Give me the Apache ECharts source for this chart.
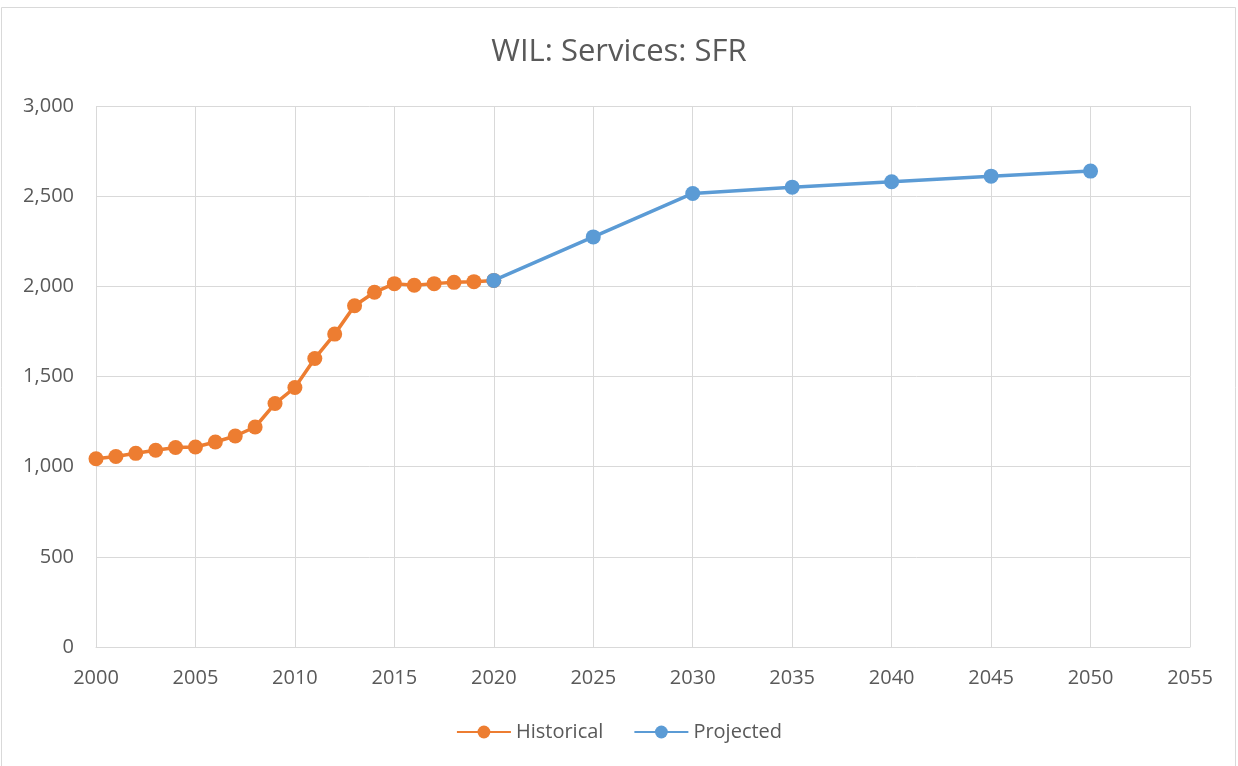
<!DOCTYPE html>
<html>
<head>
<meta charset="utf-8">
<script src="https://cdn.jsdelivr.net/npm/echarts@6/dist/echarts.min.js"></script>
<style>html,body{margin:0;padding:0;background:#fff}#c{width:1238px;height:766px}</style>
</head>
<body>
<div id="c"></div>
<script>
const histYears = [2000,2001,2002,2003,2004,2005,2006,2007,2008,2009,2010,2011,2012,2013,2014,2015,2016,2017,2018,2019,2020];
const histValues = [1044,1056,1074,1091,1106,1109,1137,1170,1220,1350,1439,1600,1735,1892,1967,2015,2006,2015,2022,2026,2033];
const projYears = [2020,2025,2030,2035,2040,2045,2050];
const projValues = [2033,2274,2515,2550,2580,2611,2639];
const titleText = 'WIL: Services: SFR';
const seriesNames = ['Historical','Projected'];

const chart = echarts.init(document.getElementById('c'));
const font = '"Open Sans", "Liberation Sans", sans-serif';
chart.setOption({
  animation: false,
  backgroundColor: '#fff',
  graphic: [{type:'rect', shape:{x:1.5,y:7.5,width:1234,height:770}, style:{fill:'none',stroke:'#d9d9d9',lineWidth:1}, silent:true}],
  title: {text: titleText, left: 'center', top: 32, textStyle:{fontFamily: font, fontSize: 31, fontWeight: 'normal', color:'#595959'}},
  legend: {bottom: 19, left: 'center', itemWidth: 54, itemHeight: 16, itemGap: 30,
    textStyle:{fontFamily: font, fontSize: 20, color:'#595959'},
    data: seriesNames},
  grid: {left: 96, right: 48, top: 106, bottom: 119, containLabel: false},
  xAxis: {type:'value', min:2000, max:2055, interval:5,
    axisLine:{show:true, lineStyle:{color:'#d9d9d9'}}, axisTick:{show:false},
    splitLine:{show:true, lineStyle:{color:'#d9d9d9', width:1}},
    axisLabel:{fontFamily: font, fontSize:20, color:'#595959', margin:21, formatter: v => String(v)}},
  yAxis: {type:'value', min:0, max:3000, interval:500,
    axisLine:{show:false}, axisTick:{show:false},
    splitLine:{show:true, lineStyle:{color:'#d9d9d9', width:1}},
    axisLabel:{fontFamily: font, fontSize:20, color:'#595959', margin:22, formatter: v => v.toLocaleString('en-US')}},
  series: [
    {name: seriesNames[0], type:'line', data: histYears.map((y,i)=>[y,histValues[i]]),
      symbol:'circle', symbolSize:15, lineStyle:{color:'#ED7D31', width:3.5}, itemStyle:{color:'#ED7D31'}, z:2},
    {name: seriesNames[1], type:'line', data: projYears.map((y,i)=>[y,projValues[i]]),
      symbol:'circle', symbolSize:15, lineStyle:{color:'#5B9BD5', width:3.5}, itemStyle:{color:'#5B9BD5'}, z:3}
  ]
});
</script>
</body>
</html>
